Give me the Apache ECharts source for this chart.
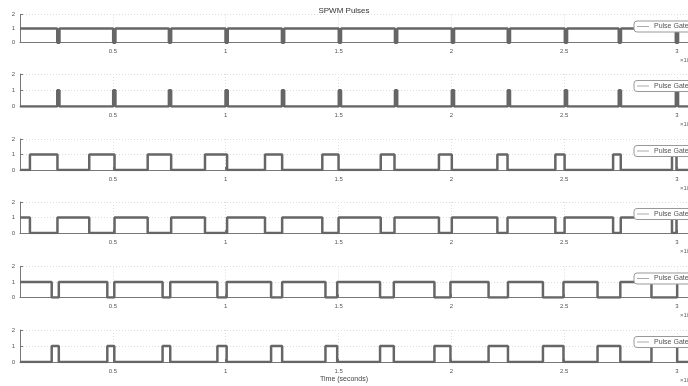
<!DOCTYPE html>
<html>
<head>
<meta charset="utf-8">
<script src="https://cdn.jsdelivr.net/npm/echarts@6/dist/echarts.min.js"></script>
<style>
html,body{margin:0;padding:0;background:#fff;}
#chart{width:688px;height:386px;}
</style>
</head>
<body>
<div id="chart"></div>
<script>
// ---- data ----
const titleText = 'SPWM Pulses';
const xLabelText = 'Time (seconds)';
const gateNames = ['Pulse Gate 1','Pulse Gate 2','Pulse Gate 3','Pulse Gate 4','Pulse Gate 5','Pulse Gate 6'];
const xTickValues = [0.5, 1, 1.5, 2, 2.5, 3];
const yTickValues = [0, 1, 2];
const xMin = 0.088, xMax = 3.049;

// narrow pulses: gate 2 high / gate 1 low
const narrowPulses = [[0.253,0.263],[0.501,0.511],[0.748,0.758],[0.999,1.009],[1.249,1.259],[1.501,1.511],
  [1.750,1.760],[2.002,2.012],[2.250,2.260],[2.503,2.513],[2.742,2.752],[2.995,3.005]];
// gate 3 high / gate 4 low
const gate3Pulses = [[0.132,0.254],[0.395,0.507],[0.654,0.758],[0.908,1.006],[1.174,1.250],[1.428,1.500],
  [1.687,1.748],[1.945,2.002],[2.204,2.249],[2.461,2.502],[2.717,2.751],[2.978,2.998]];
// gate 6 high / gate 5 low
const gate6Pulses = [[0.2285,0.260],[0.475,0.506],[0.720,0.754],[0.963,1.004],[1.201,1.250],[1.442,1.494],
  [1.684,1.745],[1.925,1.996],[2.165,2.251],[2.406,2.497],[2.648,2.749],[2.887,3.001]];

// ---- build step series ----
function steps(intervals, baseHigh) {
  const lo = baseHigh ? 1 : 0, hi = 1 - lo;
  const pts = [[xMin, lo]];
  intervals.forEach(([a, b]) => { pts.push([a, lo], [a, hi], [b, hi], [b, lo]); });
  pts.push([xMax, lo]);
  return pts;
}
const gateData = [
  steps(narrowPulses, true),
  steps(narrowPulses, false),
  steps(gate3Pulses, false),
  steps(gate3Pulses, true),
  steps(gate6Pulses, true),
  steps(gate6Pulses, false)
];

// ---- layout ----
const tops = [14.5, 74, 139, 202, 266.5, 330];
const bottoms = [42.7, 106.5, 170, 233, 297.5, 362];
const font = 'Liberation Sans, Arial, sans-serif';

const grids = [], xAxes = [], yAxes = [], series = [], legends = [], graphics = [];
gateNames.forEach((name, i) => {
  grids.push({left: 20, right: 0, top: tops[i], height: bottoms[i] - tops[i], containLabel: false});
  xAxes.push({
    type: 'value', gridIndex: i, min: xMin, max: xMax,
    axisLine: {show: true, lineStyle: {color: '#777', width: 1}},
    axisTick: {show: true, inside: true, length: 3, customValues: xTickValues, lineStyle: {color: '#777'}},
    axisLabel: {show: true, customValues: xTickValues, fontSize: 6, color: '#555', fontFamily: font, margin: 6,
      formatter: v => String(v)},
    splitLine: {show: true, lineStyle: {color: '#ddd', type: [1, 2], width: 1}}
  });
  yAxes.push({
    type: 'value', gridIndex: i, min: 0, max: 2, interval: 1,
    axisLine: {show: true, lineStyle: {color: '#777', width: 1}},
    axisTick: {show: true, inside: true, length: 3, lineStyle: {color: '#777'}},
    axisLabel: {fontSize: 6, color: '#555', fontFamily: font, margin: 5},
    splitLine: {show: true, lineStyle: {color: '#ddd', type: [1, 2], width: 1}}
  });
  series.push({
    name: name, type: 'line', xAxisIndex: i, yAxisIndex: i, data: gateData[i],
    symbol: 'none', showSymbol: false, animation: false,
    lineStyle: {color: '#666', width: 2.5}, itemStyle: {color: '#666'}
  });
  legends.push({
    data: [{name: name, icon: 'rect'}], left: 634, top: tops[i] + 6.5, orient: 'horizontal',
    itemWidth: 12, itemHeight: 1, itemGap: 0, padding: [2, 3, 2, 3],
    backgroundColor: '#fff', borderColor: '#999', borderWidth: 1, borderRadius: 3,
    textStyle: {fontSize: 7, color: '#555', fontFamily: font},
    itemStyle: {color: '#aaa', borderWidth: 0}, lineStyle: {width: 0}, selectedMode: false
  });
  graphics.push({type: 'text', left: 680, top: bottoms[i] + 15,
    style: {text: '×10⁴', fontSize: 6, fill: '#666', fontFamily: font}});
});
graphics.push({type: 'text', left: 'center', top: 376,
  style: {text: xLabelText, fontSize: 7, fill: '#444', fontFamily: font}});

const chart = echarts.init(document.getElementById('chart'), null, {renderer: 'canvas'});
chart.setOption({
  animation: false,
  backgroundColor: '#fff',
  title: {text: titleText, left: 'center', top: 2,
    textStyle: {fontSize: 8, fontWeight: 'normal', color: '#333', fontFamily: font}},
  grid: grids, xAxis: xAxes, yAxis: yAxes, series: series, legend: legends,
  graphic: graphics
});
</script>
</body>
</html>
